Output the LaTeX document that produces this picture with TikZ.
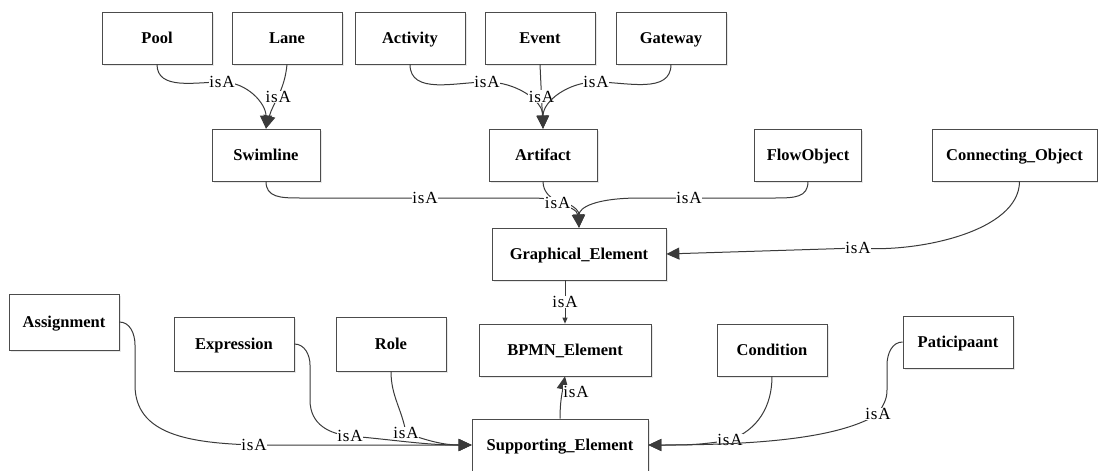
\documentclass[tikz,border=0pt]{standalone}
\usepackage{fontspec}
\setmainfont{Liberation Serif}
\newfontfamily\lblfont[LetterSpace=5]{Liberation Serif}
\usetikzlibrary{arrows.meta,shadows}
\definecolor{edgegray}{HTML}{3A3A3A}
\begin{document}
\begin{tikzpicture}[x=1pt,y=1pt,
  box/.style={draw=black!70,fill=white,line width=0.7pt,minimum width=110pt,minimum height=52pt,
    font=\fontsize{16.5}{19}\selectfont\bfseries,text height=12pt,text depth=1pt,
    drop shadow={shadow xshift=1.5pt,shadow yshift=-1.5pt,fill=black!18}},
  isa/.style={draw=edgegray,line width=1pt,-{Triangle[length=13pt,width=12pt]}},
  smallisa/.style={draw=edgegray,line width=1pt,-{Triangle[length=6pt,width=5pt]}},
  lbl/.style={fill=white,inner sep=0.5pt,font=\lblfont\fontsize{17}{19}\selectfont}]
\useasboundingbox (0,0) rectangle (1098,-471);
% top row
\node[box] (pool) at (157,-38) {Pool};
\node[box] (lane) at (287,-38) {Lane};
\node[box] (activity) at (410,-38) {Activity};
\node[box] (event) at (540,-38) {Event};
\node[box] (gateway) at (671,-38) {Gateway};
% second row
\node[box,minimum width=108pt] (swim) at (266,-155) {Swimline};
\node[box,minimum width=108pt] (artifact) at (543,-155) {Artifact};
\node[box,minimum width=107pt] (flow) at (808,-155) {FlowObject};
\node[box,minimum width=165pt] (conn) at (1014.5,-155) {Connecting\_Object};
\node[box,minimum width=174pt] (graph) at (579,-254) {Graphical\_Element};
% lower rows
\node[box,minimum height=56pt] (assign) at (64,-322) {Assignment};
\node[box,minimum width=120pt,minimum height=54pt] (expr) at (234,-344) {Expression};
\node[box,minimum height=54pt] (role) at (391,-344) {Role};
\node[box,minimum width=172pt] (bpmn) at (565,-350) {BPMN\_Element};
\node[box] (cond) at (772,-350) {Condition};
\node[box] (partic) at (958,-342) {Paticipaant};
\node[box,minimum width=176pt] (supp) at (560,-445) {Supporting\_Element};
% isA links
\draw[isa] (pool.south) to[out=-90,in=180] (222,-82) node[lbl]{isA} to[out=0,in=90] (swim.north);
\draw[isa] (lane.south) to[out=-95,in=75] node[lbl]{isA} (swim.north);
\draw[isa] (activity.south) to[out=-90,in=180] (487,-82) node[lbl]{isA} to[out=0,in=90] (artifact.north);
\draw[isa] (event.south) -- node[lbl]{isA} (artifact.north);
\draw[isa] (gateway.south) to[out=-90,in=0] (596,-82) node[lbl]{isA} to[out=180,in=90] (artifact.north);
\draw[isa] (swim.south) .. controls +(0,-16) and +(-20,0) .. (300,-198) -- (425,-198) node[lbl]{isA}
  -- (530,-198) .. controls +(35,0) and +(0,20) .. (graph.north);
\draw[isa] (artifact.south) to[out=-90,in=95] node[lbl,pos=0.45]{isA} (graph.north);
\draw[isa] (flow.south) .. controls +(0,-16) and +(20,0) .. (775,-198) -- (689,-198) node[lbl]{isA}
  -- (640,-198) .. controls +(-45,0) and +(0,20) .. (graph.north);
\draw[isa] ([xshift=5pt]conn.south) .. controls +(0,-50) and +(60,-5) .. (858,-248) node[lbl]{isA} -- (graph.east);
\draw[smallisa] (graph.south -| bpmn.north) -- node[lbl]{isA} (bpmn.north);
\draw[isa] (supp.north) to[out=90,in=-100] node[lbl,right,pos=0.65]{isA} (bpmn.south);
\draw[isa] (assign.east) to[out=0,in=90] (135,-345) -- (135,-385) .. controls (135,-435) and (190,-443) .. (254,-445)
  node[lbl]{isA} -- (supp.west);
\draw[isa] (expr.east) to[out=0,in=90] (310,-365) -- (310,-400) .. controls (310,-425) and (330,-434) .. (350,-436)
  node[lbl]{isA} to[out=-5,in=180] (supp.west);
\draw[isa] (role.south) to[out=-90,in=100] (406,-433) node[lbl]{isA} to[out=-20,in=180] (supp.west);
\draw[isa] (cond.south) to[out=-90,in=20] (730,-440) node[lbl]{isA} to[out=190,in=0] (supp.east);
\draw[isa] (partic.west) to[out=180,in=90] (887,-365) -- (887,-390) to[out=-90,in=60] (878,-414) node[lbl]{isA}
  .. controls (840,-438) and (760,-445) .. (supp.east);
\end{tikzpicture}
\end{document}
